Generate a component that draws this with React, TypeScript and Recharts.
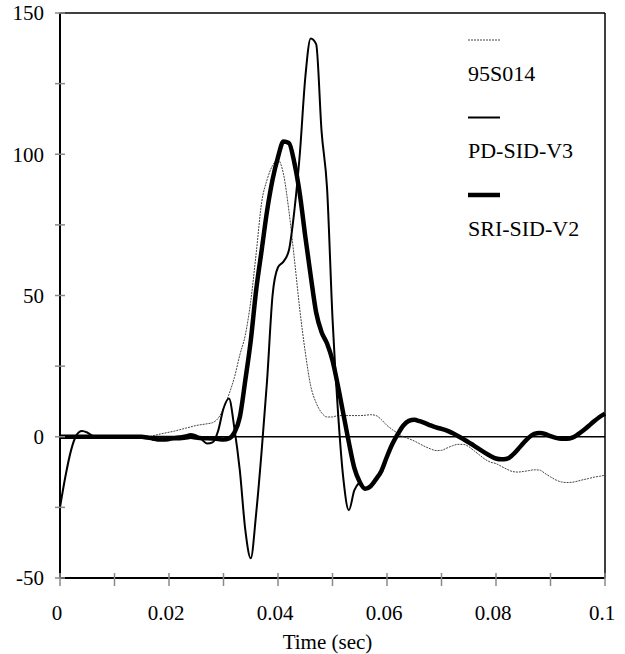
import React from 'react'
import {
  LineChart, Line, XAxis, YAxis, ReferenceLine, Legend,
} from 'recharts'

// sample grid, one point every millisecond
const TIME = Array.from({ length: 101 }, (_, i) => i / 1000)

const S95014 = [
  0, 0, 0, 0, 0, 0, 0, 0, 0, 0,
  0, 0, 0, 0, 0, 0, 0, 0.3, 0.8, 1.2,
  1.6, 2, 2.5, 3, 3.5, 4, 4.3, 4.6, 5, 6.5,
  10, 15, 21, 29, 36, 48, 65, 83, 91, 96,
  98, 93, 80, 63, 45, 30, 18, 12, 8.5, 7,
  7, 7.5, 7.5, 7.5, 7.5, 7.5, 7.6, 7.8, 7.5, 6,
  4, 2.5, 1.2, 0, -0.7, -1.5, -2.5, -3.5, -4.3, -4.9,
  -4.8, -4, -3.2, -2.7, -2.7, -3.5, -5, -6.5, -8, -9,
  -9.5, -10.5, -11.5, -12.3, -12.5, -12.3, -12, -11.7, -11.8, -13,
  -14.2, -15.3, -16, -16.2, -16.1, -15.7, -15.2, -14.8, -14.3, -14,
  -13.6,
]

// PD-SID-V3 stops at 0.055 s
const PD_SID_V3 = [
  -25, -14, -5, 0.5, 2, 1.5, 0.3, 0, 0, 0,
  0, 0, 0, 0, 0, 0, 0, 0, 0, 0,
  0, 0, 0.2, 0.5, 1, 0.5, -1, -2.4, -2, 2,
  10, 13.5, 3, -12, -33, -43, -27, -5, 20, 50,
  60, 62, 66, 80, 100, 127, 141, 139, 108, 88,
  42, 9, -15, -26, -19, -16,
]

const SRI_SID_V2 = [
  0, 0, 0, 0, 0, 0, 0, 0, 0, 0,
  0, 0, 0, 0, 0, 0, -0.3, -0.6, -1, -1,
  -0.8, -0.5, -0.5, -0.3, 0, -0.3, -0.5, -0.5, -0.6, -0.8,
  -1, -0.6, 1.5, 7, 20, 34, 52, 66, 80, 91,
  99, 104.5, 104, 97, 86, 71, 57, 44, 37, 33,
  27, 18, 8, -2, -11, -16, -18.4, -17.5, -15, -12,
  -7, -2.5, 1, 4, 5.6, 6, 5.5, 4.8, 4, 3.3,
  2.8, 2.2, 1.3, 0.3, -0.8, -2, -3.2, -4.5, -5.7, -6.8,
  -7.7, -8, -7.8, -6.5, -4.5, -2.3, -0.3, 1, 1.3, 1,
  0.2, -0.4, -0.7, -0.7, -0.3, 0.8, 2.2, 3.8, 5.5, 7,
  8.2,
]

const X_TICKS = [0, 0.01, 0.02, 0.03, 0.04, 0.05, 0.06, 0.07, 0.08, 0.09, 0.1]
const X_LABELS = ['0', '', '0.02', '', '0.04', '', '0.06', '', '0.08', '', '0.1']
const Y_TICKS = [-50, -25, 0, 25, 50, 75, 100, 125, 150]
const Y_LABELS = ['-50', '', '0', '', '50', '', '100', '', '150']

const SERIES = [
  { key: 's95', name: '95S014', color: '#444', width: 1, dash: '2 1' },
  { key: 'pd', name: 'PD-SID-V3', color: '#000', width: 2, dash: undefined },
  { key: 'sri', name: 'SRI-SID-V2', color: '#000', width: 4.5, dash: undefined },
]

const data = TIME.map((t, i) => ({
  t,
  s95: S95014[i],
  pd: i < PD_SID_V3.length ? PD_SID_V3[i] : null,
  sri: SRI_SID_V2[i],
}))

const FONT = 'Liberation Serif'
const TICK_GRAY = '#8a8a8a'
const textStyle = { fontFamily: FONT, fontSize: 21 }

function YTick(props: any) {
  const { x, y, index } = props
  const label = Y_LABELS[index]
  return (
    <g>
      <line x1={x - 5} x2={x + 5} y1={y} y2={y} stroke={TICK_GRAY} strokeWidth={1.5} />
      {label && (
        <text x={x - 16} y={y} dy="0.35em" textAnchor="end" fill="#000" style={textStyle}>
          {label}
        </text>
      )}
    </g>
  )
}

function XTick(props: any) {
  const { x, y, index } = props
  const label = X_LABELS[index]
  return (
    <g>
      <line x1={x} x2={x} y1={y - 5} y2={y + 8} stroke={TICK_GRAY} strokeWidth={1.5} />
      {label && (
        <text x={x - 3} y={y + 35} dy="0.35em" textAnchor="middle" fill="#000" style={textStyle}>
          {label}
        </text>
      )}
    </g>
  )
}

function LegendBox() {
  return (
    <svg width={160} height={220}>
      {SERIES.map((s, i) => {
        const top = 10 + i * 77.5
        return (
          <g key={s.key}>
            <line x1={8} x2={40} y1={top} y2={top} stroke={s.color} strokeWidth={s.width} strokeDasharray={s.dash} />
            <text x={8} y={top + 33} dy="0.35em" fill="#000" style={{ fontFamily: FONT, fontSize: 22 }}>
              {s.name}
            </text>
          </g>
        )
      })}
    </svg>
  )
}

export default function App() {
  return (
    <div style={{ position: 'absolute', left: 0, top: 0, background: '#fff', fontFamily: FONT }}>
      <LineChart
        width={625}
        height={654}
        data={data}
        margin={{ top: 13, right: 20, bottom: 0, left: 0 }}
        style={{ fontFamily: FONT }}
      >
        <XAxis
          dataKey="t"
          type="number"
          domain={[0, 0.1]}
          ticks={X_TICKS}
          interval={0}
          height={76}
          tickSize={0}
          tickMargin={0}
          tickLine={false}
          tick={XTick}
          axisLine={{ stroke: '#000', strokeWidth: 2 }}
          label={{
            value: 'Time (sec)', position: 'insideBottom', offset: 5, fill: '#000',
            fontSize: 21, dx: -5, style: { fontFamily: FONT },
          }}
        />
        <YAxis
          type="number"
          domain={[-50, 150]}
          ticks={Y_TICKS}
          interval={0}
          width={60}
          tickSize={0}
          tickMargin={0}
          tickLine={false}
          tick={YTick}
          axisLine={{ stroke: '#000', strokeWidth: 2 }}
          allowDataOverflow
        />
        <ReferenceLine y={0} stroke="#000" strokeWidth={1.5} />
        <ReferenceLine y={150} stroke="#000" strokeWidth={1.5} />
        <ReferenceLine x={0.1} stroke="#000" strokeWidth={1.5} />
        <Legend
          layout="vertical"
          align="center"
          verticalAlign="middle"
          content={LegendBox}
          wrapperStyle={{ position: 'absolute', left: 460, top: 30, width: 160, height: 220 }}
        />
        {SERIES.map((s) => (
          <Line
            key={s.key}
            dataKey={s.key}
            name={s.name}
            type="monotone"
            stroke={s.color}
            strokeWidth={s.width}
            strokeDasharray={s.dash}
            dot={false}
            activeDot={false}
            isAnimationActive={false}
          />
        ))}
      </LineChart>
    </div>
  )
}
